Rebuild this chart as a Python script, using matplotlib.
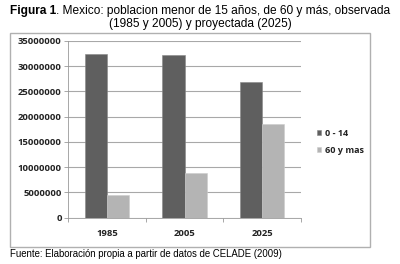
import matplotlib
matplotlib.use("Agg")
import matplotlib.pyplot as plt
from matplotlib.patches import Rectangle
import numpy as np

years = ["1985", "2005", "2025"]
grupo_0_14 = [32500000, 32200000, 26800000]
grupo_60_mas = [4550000, 8900000, 18650000]
series_labels = ["0 - 14", "60 y mas"]
yticks = [0, 5000000, 10000000, 15000000, 20000000, 25000000, 30000000, 35000000]

W, H = 400, 264
fig = plt.figure(figsize=(W / 100, H / 100), dpi=100)
fig.patch.set_facecolor("white")

# outer chart frame
fig.patches.append(Rectangle((10 / W, 1 - 247 / H), 360 / W, 214 / H,
                             transform=fig.transFigure, fill=False,
                             edgecolor="#b0b0b0", linewidth=1.0))

ax = fig.add_axes([68 / W, 1 - 217.7 / H, (301 - 68) / W, (217.7 - 41) / H])
x = np.arange(len(years))
bw = 0.285
dark = "#5f5f5f"
light = "#b4b4b4"
ax.bar(x - bw / 2, grupo_0_14, bw, color=dark, edgecolor="#888888", linewidth=0.4,
       label=series_labels[0], zorder=3)
ax.bar(x + bw / 2, grupo_60_mas, bw, color=light, edgecolor="#cccccc", linewidth=0.4,
       label=series_labels[1], zorder=3)

fs_tick = 6.8
ax.set_xlim(-0.5, 2.5)
ax.set_ylim(0, 35000000)
ax.set_yticks(yticks)
ax.set_yticklabels([str(v) for v in yticks], fontsize=fs_tick, fontweight="bold",
                   family="Open Sans", color="#222222")
ax.set_xticks(x)
ax.set_xticklabels(years, fontsize=fs_tick, fontweight="bold", family="Open Sans",
                   color="#222222")
ax.tick_params(axis="x", length=0, pad=8)
ax.set_xticks([-0.5, 0.5, 1.5, 2.5], minor=True)
ax.tick_params(axis="x", which="minor", length=3, color="#999999", width=0.6)
ax.tick_params(axis="y", length=3, color="#999999", width=0.6, pad=1.5)
ax.grid(axis="y", color="#a8a8a8", linewidth=0.8, zorder=0)
for s in ["top", "right"]:
    ax.spines[s].set_visible(False)
ax.spines["left"].set_color("#999999")
ax.spines["bottom"].set_color("#999999")
ax.spines["left"].set_linewidth(0.6)
ax.spines["bottom"].set_linewidth(0.6)

leg = fig.legend(loc="upper left", bbox_to_anchor=(313 / W, 1 - 125 / H),
                 frameon=False, prop={"family": "Open Sans", "weight": "bold", "size": 6.5},
                 handlelength=0.5, handleheight=0.5, handletextpad=0.45,
                 labelspacing=0.9, borderaxespad=0)
for t in leg.get_texts():
    t.set_color("#222222")

# title with bold "Figura 1"
fs_title = 8.6
renderer = fig.canvas.get_renderer()
t_bold = fig.text(0, 1 - 11 / H, "Figura 1", ha="left", va="center",
                  fontsize=fs_title, family="Liberation Sans", fontweight="bold")
t_rest = fig.text(0, 1 - 11 / H,
                  ". Mexico: poblacion menor de 15 años, de 60 y más, observada",
                  ha="left", va="center", fontsize=fs_title, family="Liberation Sans")
wb = t_bold.get_window_extent(renderer).width
wr = t_rest.get_window_extent(renderer).width
x0 = 200 - (wb + wr) / 2
t_bold.set_x(x0 / W)
t_rest.set_x((x0 + wb) / W)
fig.text(200 / W, 1 - 24 / H, "(1985 y 2005) y proyectada (2025)",
         ha="center", va="center", fontsize=fs_title, family="Liberation Sans")
fig.text(10 / W, 1 - 254 / H,
         "Fuente: Elaboración propia a partir de datos de CELADE (2009)",
         ha="left", va="center", fontsize=6.9, family="Liberation Sans")

fig.savefig("out.png", dpi=100)
